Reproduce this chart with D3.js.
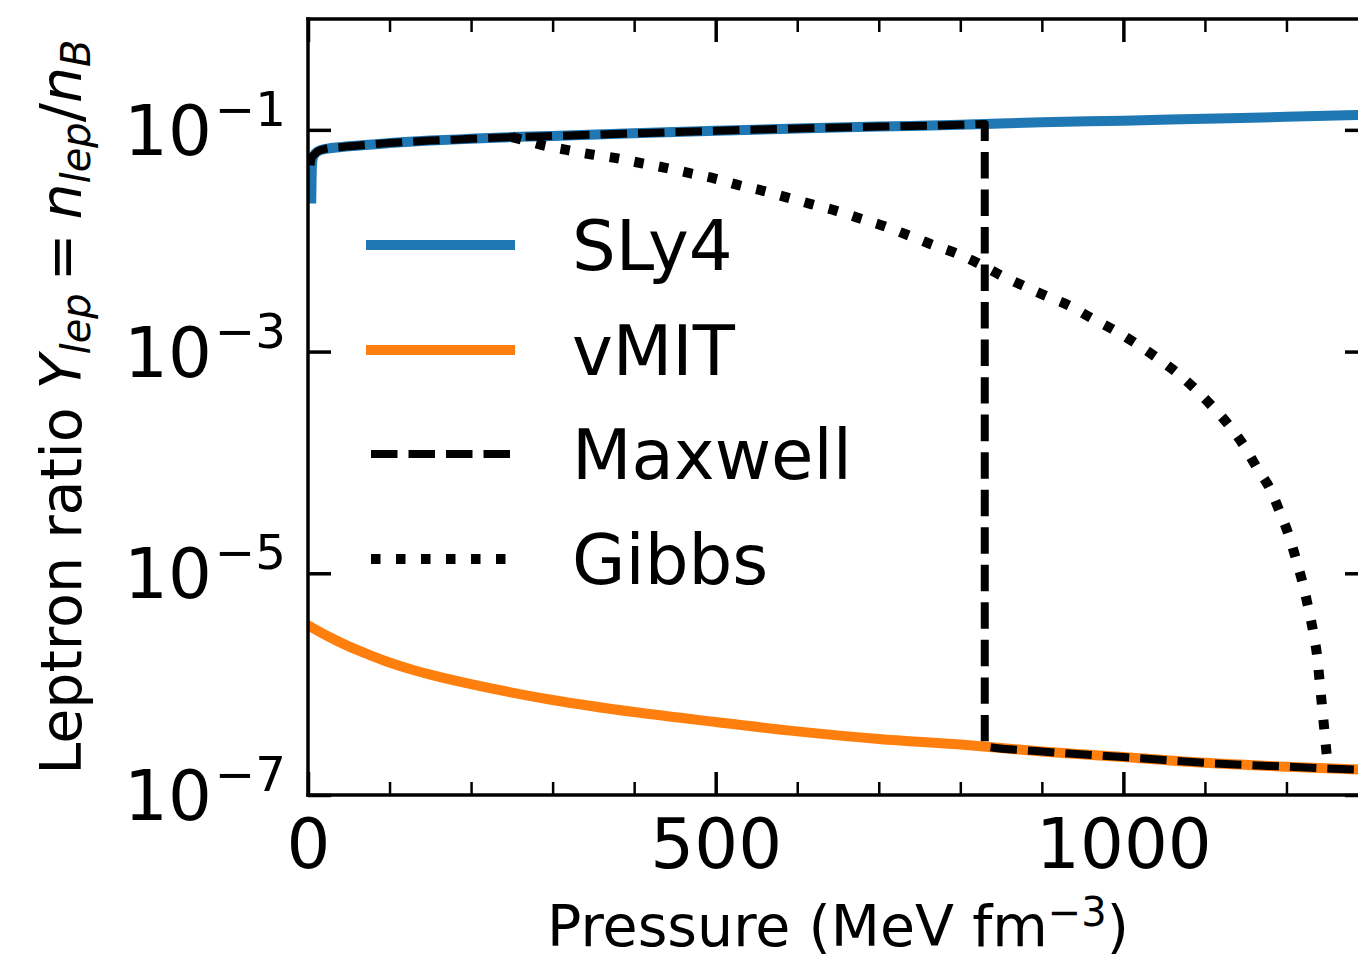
<!DOCTYPE html>
<html><head><meta charset="utf-8">
<script src="https://cdn.jsdelivr.net/npm/d3@7"></script>
<style>
body{margin:0;background:#fff}
svg{display:block}
text{font-family:"DejaVu Sans",sans-serif;fill:#000}
</style>
</head><body>
<svg id="c" width="1358" height="958"></svg>
<script>
// ---- data ----
const sly4P = [4, 4.5, 5, 6, 8, 12, 20, 50, 100, 150, 200, 250, 300, 400, 500, 600, 700, 800, 900, 1000, 1100, 1200, 1300];
const sly4Y = [0.024, 0.040, 0.050, 0.056, 0.060, 0.064, 0.067, 0.071, 0.076, 0.080, 0.083, 0.086, 0.088, 0.093, 0.098, 0.103, 0.107, 0.111, 0.117, 0.121, 0.126, 0.131, 0.137];

const vmitP = [0, 25, 50, 75, 100, 125, 150, 200, 250, 300, 400, 500, 600, 700, 800, 900, 1000, 1100, 1200, 1300];
const vmitY = [3.4e-6, 2.69e-6, 2.19e-6, 1.84e-6, 1.57e-6, 1.37e-6, 1.22e-6, 1.0e-6, 8.4e-7, 7.2e-7, 5.6e-7, 4.55e-7, 3.75e-7, 3.2e-7, 2.85e-7, 2.47e-7, 2.2e-7, 1.95e-7, 1.8e-7, 1.68e-7];

const maxwellP = [3, 4, 6, 8, 12, 20, 50, 100, 150, 200, 250, 300, 400, 500, 600, 700, 800, 830, 830, 900, 1000, 1100, 1200, 1300];
const maxwellY = [0.048, 0.054, 0.058, 0.060, 0.064, 0.067, 0.071, 0.076, 0.080, 0.083, 0.086, 0.088, 0.093, 0.098, 0.103, 0.107, 0.111, 0.1128, 2.75e-7, 2.47e-7, 2.2e-7, 1.95e-7, 1.8e-7, 1.68e-7];

const gibbsP = [250, 270, 286, 317, 348, 378, 409, 440, 468, 499, 529, 558, 588, 617, 648, 678, 707, 736, 764, 793, 821, 848, 876, 905, 934, 960, 988, 1014, 1040, 1065, 1088, 1109, 1130, 1148, 1164, 1180, 1192, 1203, 1212, 1220, 1227, 1233, 1238, 1241, 1244, 1247, 1250, 1252];
const gibbsY = [0.086, 0.079, 0.0733, 0.066, 0.060, 0.0556, 0.050, 0.0452, 0.0407, 0.0363, 0.0316, 0.0282, 0.0245, 0.0214, 0.0186, 0.0158, 0.0135, 0.0112, 0.0093, 0.0078, 0.0063, 0.00494, 0.00396, 0.00318, 0.00259, 0.00202, 0.00157, 0.00120, 8.9e-4, 6.5e-4, 4.6e-4, 3.2e-4, 2.14e-4, 1.41e-4, 8.9e-5, 5.75e-5, 3.55e-5, 2.19e-5, 1.32e-5, 8.1e-6, 4.8e-6, 2.9e-6, 1.7e-6, 1.0e-6, 5.9e-7, 3.55e-7, 2.1e-7, 1.76e-7];

const xMajor = [0, 500, 1000];
const xMinor = [100, 200, 300, 400, 600, 700, 800, 900, 1100, 1200, 1300];
const yMajor = [1e-7, 1e-5, 1e-3, 1e-1];
const legendLabels = ["SLy4", "vMIT", "Maxwell", "Gibbs"];

// ---- layout ----
const svg = d3.select("#c");
const L = 308, R = 1368, T = 19, B = 795;
const x = d3.scaleLinear().domain([0, 1300]).range([L, R]);
const y = d3.scaleLog().domain([1e-7, 1]).range([B, T]);

const styles = [
  {color: "#1f77b4", w: 10, dash: null, cap: "square"},
  {color: "#ff7f0e", w: 10, dash: null, cap: "square"},
  {color: "#000", w: 8, dash: "26.5,11", cap: "butt"},
  {color: "#000", w: 10, dash: "9.5,15.5", cap: "butt"}
];
const series = [
  d3.zip(sly4P, sly4Y),
  d3.zip(vmitP, vmitY),
  d3.zip(maxwellP, maxwellY),
  d3.zip(gibbsP, gibbsY)
];

svg.append("defs").append("clipPath").attr("id", "clip")
  .append("rect").attr("x", L).attr("y", T).attr("width", R - L).attr("height", B - T);

const line = d3.line().x(d => x(d[0])).y(d => y(d[1])).curve(d3.curveMonotoneX);
const plot = svg.append("g").attr("clip-path", "url(#clip)");
series.forEach((s, i) => {
  const st = styles[i];
  plot.append("path").datum(s)
    .attr("d", line)
    .attr("fill", "none")
    .attr("stroke", st.color)
    .attr("stroke-width", st.w)
    .attr("stroke-linecap", st.cap)
    .attr("stroke-linejoin", "round")
    .attr("stroke-dasharray", st.dash);
});

// ---- axes ----
function clean(g, w) {
  g.select(".domain").remove();
  g.attr("font-size", null).attr("font-family", null);
  g.selectAll(".tick line").attr("stroke", "#000").attr("stroke-width", w);
}
svg.append("g").attr("transform", `translate(0,${B})`)
  .call(d3.axisBottom(x).tickValues(xMinor).tickSizeInner(-13).tickSizeOuter(0).tickFormat(""))
  .call(g => clean(g, 2.5));
svg.append("g").attr("transform", `translate(0,${B})`)
  .call(d3.axisBottom(x).tickValues(xMajor).tickSizeInner(-23).tickSizeOuter(0).tickFormat(d3.format("d")))
  .call(g => {
    clean(g, 3.5);
    g.selectAll(".tick text").attr("y", 73).attr("dy", null).attr("font-size", 69).attr("fill", "#000");
  });
svg.append("g").attr("transform", `translate(0,${T})`)
  .call(d3.axisTop(x).tickValues(xMinor).tickSizeInner(-13).tickSizeOuter(0).tickFormat(""))
  .call(g => clean(g, 2.5));
svg.append("g").attr("transform", `translate(0,${T})`)
  .call(d3.axisTop(x).tickValues(xMajor).tickSizeInner(-23).tickSizeOuter(0).tickFormat(""))
  .call(g => clean(g, 3.5));
svg.append("g").attr("transform", `translate(${L},0)`)
  .call(d3.axisLeft(y).tickValues(yMajor).tickSizeInner(-23).tickSizeOuter(0).tickFormat(""))
  .call(g => clean(g, 3.5));
svg.append("g").attr("transform", `translate(${R},0)`)
  .call(d3.axisRight(y).tickValues(yMajor).tickSizeInner(-23).tickSizeOuter(0).tickFormat(""))
  .call(g => clean(g, 3.5));

// y tick labels (10^n)
yMajor.forEach(v => {
  const e = Math.round(Math.log10(v));
  const t = svg.append("text").attr("x", 286).attr("y", y(v) + 25)
    .attr("text-anchor", "end").attr("font-size", 69);
  t.append("tspan").text("10");
  t.append("tspan").attr("dy", -29).attr("dx", 3).attr("font-size", 48.3).text("\u2212" + Math.abs(e));
});

// spines
const sp = svg.append("g").attr("stroke", "#000").attr("stroke-width", 3.5).attr("stroke-linecap", "square");
sp.append("line").attr("x1", L).attr("x2", L).attr("y1", T).attr("y2", B);
sp.append("line").attr("x1", L).attr("x2", R).attr("y1", B).attr("y2", B);
sp.append("line").attr("x1", L).attr("x2", R).attr("y1", T).attr("y2", T);
sp.append("line").attr("x1", R).attr("x2", R).attr("y1", T).attr("y2", B);

// axis labels
const xl = svg.append("text").attr("x", (L + R) / 2).attr("y", 946)
  .attr("text-anchor", "middle").attr("font-size", 57);
xl.append("tspan").text("Pressure (MeV fm");
xl.append("tspan").attr("dy", -20).attr("font-size", 40).text("\u22123");
xl.append("tspan").attr("dy", 20).text(")");

const yl = svg.append("text").attr("transform", `translate(81,${(T + B) / 2}) rotate(-90)`)
  .attr("text-anchor", "middle").attr("font-size", 57);
yl.append("tspan").text("Leptron ratio ");
yl.append("tspan").attr("font-style", "italic").text("Y");
yl.append("tspan").attr("font-style", "italic").attr("font-size", 40).attr("dy", 9).text("lep");
yl.append("tspan").attr("dy", -9).attr("dx", 12).text("=");
yl.append("tspan").attr("font-style", "italic").attr("dx", 14).text("n");
yl.append("tspan").attr("font-style", "italic").attr("font-size", 40).attr("dy", 9).text("lep");
yl.append("tspan").attr("dy", -9).text("/");
yl.append("tspan").attr("font-style", "italic").text("n");
yl.append("tspan").attr("font-style", "italic").attr("font-size", 40).attr("dy", 9).text("B");

// legend
const rowY = [245, 350, 454, 559];
const lg = svg.append("g");
legendLabels.forEach((lab, i) => {
  const st = styles[i];
  lg.append("line").attr("x1", 371).attr("x2", 510).attr("y1", rowY[i]).attr("y2", rowY[i])
    .attr("stroke", st.color).attr("stroke-width", st.w)
    .attr("stroke-linecap", st.cap).attr("stroke-dasharray", st.dash);
  lg.append("text").attr("x", 572).attr("y", rowY[i] + 25).attr("font-size", 69).text(lab);
});
</script>
</body></html>
